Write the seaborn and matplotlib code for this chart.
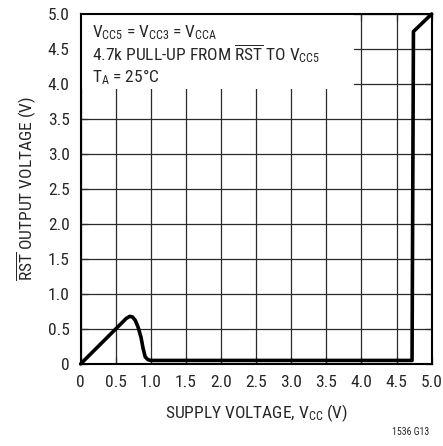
import matplotlib
matplotlib.use("Agg")
import matplotlib.pyplot as plt
from matplotlib import font_manager
from matplotlib.patches import Rectangle
import pandas as pd
import seaborn as sns

# curve
supply_v = [0.0, 0.5, 0.6, 0.65, 0.70, 0.74, 0.78, 0.82, 0.86, 0.89, 0.92,
            0.96, 1.0, 2.0, 3.0, 4.0, 4.72, 4.74, 5.0]
rst_v = [0.0, 0.5, 0.6, 0.65, 0.68, 0.67, 0.62, 0.52, 0.38, 0.22, 0.10,
         0.06, 0.05, 0.05, 0.05, 0.05, 0.05, 4.75, 5.0]

x_ticks = [0, 0.5, 1.0, 1.5, 2.0, 2.5, 3.0, 3.5, 4.0, 4.5, 5.0]
y_ticks = [0, 0.5, 1.0, 1.5, 2.0, 2.5, 3.0, 3.5, 4.0, 4.5, 5.0]
tick_labels = ["0", "0.5", "1.0", "1.5", "2.0", "2.5", "3.0", "3.5", "4.0", "4.5", "5.0"]

sns.set_style("ticks")

# condensed face if one is around, else plain Liberation Sans
installed = {f.name for f in font_manager.fontManager.ttflist}
narrow = None
for cand in ["Liberation Sans Narrow", "Roboto Condensed", "Noto Sans Condensed",
             "Open Sans Condensed"]:
    if cand in installed:
        narrow = cand
        break
main_font = narrow or "Liberation Sans"
plt.rcParams["font.family"] = [main_font, "DejaVu Sans"]
plt.rcParams["mathtext.fontset"] = "custom"
plt.rcParams["mathtext.rm"] = main_font
plt.rcParams["mathtext.it"] = main_font
tick_fs = 12.5 if narrow else 12
box_fs = 12.5 if narrow else 11.5

fig = plt.figure(figsize=(4.43, 4.46), dpi=100)
ax = fig.add_axes([0.182, 0.184, 0.7925, 0.7846])

df = pd.DataFrame({"supply": supply_v, "rst": rst_v})

# grid drawn by hand so the label box hides it but not the ticks
ax.hlines(y_ticks, 0, 5, color="#2a2a2a", lw=0.9, zorder=1)
ax.vlines(x_ticks, 0, 5, color="#2a2a2a", lw=0.9, zorder=1)
ax.add_patch(Rectangle((0, 3.93), 3.9, 1.07, facecolor="white",
                       edgecolor="none", zorder=2))

sns.lineplot(data=df, x="supply", y="rst", sort=False, color="black",
             lw=2.6, ax=ax, zorder=3, clip_on=False)

ax.set_xlim(0, 5)
ax.set_ylim(0, 5)
ax.set_xticks(x_ticks)
ax.set_xticklabels(tick_labels)
ax.set_yticks(y_ticks)
ax.set_yticklabels(tick_labels)
ax.tick_params(direction="in", length=5, width=0.9, labelsize=tick_fs, pad=8,
               top=True, right=True, color="#2a2a2a")
for sp in ax.spines.values():
    sp.set_linewidth(1.5)
    sp.set_color("black")

ax.set_xlabel(r"SUPPLY VOLTAGE, V$_{\mathrm{CC}}$ (V)", fontsize=tick_fs, labelpad=9)
ax.set_ylabel(r"$\overline{\mathrm{RST}}$ OUTPUT VOLTAGE (V)", fontsize=tick_fs,
              labelpad=7)

ax.text(0.16, 4.67, r"V$_{\mathrm{CC5}}$ = V$_{\mathrm{CC3}}$ = V$_{\mathrm{CCA}}$",
        fontsize=box_fs, va="baseline", zorder=4)
ax.text(0.16, 4.34, r"4.7k PULL-UP FROM $\overline{\mathrm{RST}}$ TO V$_{\mathrm{CC5}}$",
        fontsize=box_fs, va="baseline", zorder=4)
ax.text(0.16, 4.03, r"T$_{\mathrm{A}}$ = 25°C", fontsize=box_fs, va="baseline", zorder=4)

fig.text(0.97, 0.02, "1536 G13", fontsize=7, ha="right", va="bottom")

fig.savefig("out.png", dpi=100)
